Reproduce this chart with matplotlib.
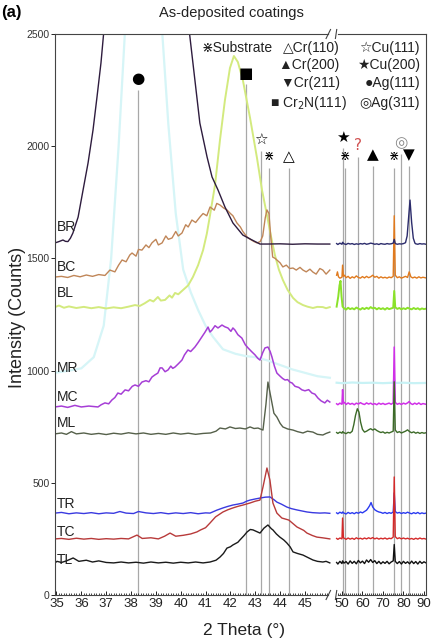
import numpy as np
import matplotlib
matplotlib.use("Agg")
import matplotlib.pyplot as plt
import matplotlib.transforms as mtrans

plt.rcParams['font.family'] = ['Liberation Sans', 'DejaVu Sans']

# ---------------- data (2 theta in degrees, intensity in counts) ----------------
BR_lx = [34.94, 35.1, 35.26, 35.36, 35.46, 35.56, 35.66, 35.87, 36.07, 36.27, 36.47, 36.63, 36.79, 36.91,
         37.2, 37.6, 38.0, 38.5, 39.0, 39.5, 40.0, 40.29, 40.37, 40.57, 40.77, 41.06, 41.26, 41.5, 41.78,
         42.1, 42.5, 42.87, 43.19, 43.5, 44.0, 44.5, 45.0, 45.5, 46.0]
BR_ly = [1569, 1575, 1582, 1576, 1575, 1590, 1613, 1684, 1805, 1925, 2072, 2219, 2371, 2518,
         2950, 3500, 3900, 4100, 3900, 3400, 2850, 2560, 2487, 2295, 2103, 1952, 1863, 1805, 1729,
         1658, 1604, 1582, 1564, 1564, 1565, 1563, 1565, 1564, 1564]
BR_rx = [47.4, 48, 49, 50, 50.3, 51, 52, 53, 54, 55, 56, 57, 58, 59, 60, 61, 62, 63, 64, 65, 66, 67, 68,
         69, 70, 71, 72, 73, 74, 75, 75.5, 76, 77, 78, 79, 80, 81, 81.8, 82.5, 83.2, 84, 84.8, 85.6,
         86, 87, 88, 89, 90, 91]
BR_ry = [1566, 1562, 1568, 1563, 1572, 1565, 1562, 1567, 1564, 1566, 1562, 1565, 1563, 1566, 1564, 1567,
         1563, 1565, 1568, 1566, 1563, 1565, 1562, 1566, 1564, 1563, 1566, 1564, 1565, 1568, 1585, 1566,
         1563, 1565, 1564, 1566, 1570, 1600, 1680, 1760, 1660, 1590, 1568, 1565, 1563, 1566, 1564, 1565, 1563]

BC_lx = [34.94, 35.2, 35.45, 35.7, 35.95, 36.2, 36.45, 36.7, 36.95, 37.15, 37.35, 37.5, 37.64, 37.8, 37.95,
         38.04, 38.2, 38.3, 38.44, 38.6, 38.72, 38.84, 39.0, 39.1, 39.25, 39.4, 39.5, 39.65, 39.8, 39.9,
         40.05, 40.2, 40.3, 40.45, 40.6, 40.77, 40.9, 41.05, 41.18, 41.35, 41.45, 41.58, 41.72, 41.86,
         42.0, 42.1, 42.26, 42.4, 42.5, 42.67, 42.8, 42.95, 43.07, 43.2, 43.3, 43.4, 43.47, 43.55, 43.62,
         43.7, 43.8, 43.87, 44.0, 44.11, 44.25, 44.38, 44.52, 44.65, 44.8, 44.92, 45.05, 45.2, 45.32,
         45.45, 45.6, 45.72, 45.85, 46.0]
BC_ly = [1417, 1420, 1415, 1424, 1418, 1426, 1420, 1428, 1424, 1448, 1440, 1470, 1493, 1485, 1515,
         1524, 1510, 1540, 1537, 1560, 1548, 1569, 1585, 1560, 1569, 1600, 1585, 1591, 1620, 1600,
         1613, 1650, 1640, 1671, 1660, 1684, 1700, 1690, 1729, 1715, 1745, 1738, 1725, 1716,
         1700, 1690, 1658, 1640, 1620, 1595, 1585, 1575, 1569, 1575, 1600, 1680, 1716, 1700, 1600,
         1506, 1500, 1493, 1480, 1462, 1470, 1455, 1457, 1448, 1460, 1448, 1440, 1452, 1439,
         1430, 1455, 1448, 1430, 1448]
BC_rx = [47.4, 47.8, 48.3, 49, 50, 50.3, 50.7, 51.3, 52, 53, 54, 55, 56, 57, 58, 59, 60, 61, 62, 63, 64,
         65, 66, 67, 68, 69, 70, 71, 72, 73, 74, 75, 75.5, 76, 77, 78, 79, 80, 81, 82, 82.8, 83.6, 84.5,
         85.5, 86.5, 87.5, 88.5, 89.5, 91]
BC_ry = [1425, 1440, 1418, 1412, 1416, 1470, 1420, 1425, 1414, 1420, 1411, 1418, 1413, 1422, 1415, 1412,
         1419, 1413, 1420, 1414, 1418, 1425, 1416, 1420, 1412, 1418, 1413, 1416, 1412, 1417, 1414, 1420,
         1690, 1425, 1414, 1418, 1412, 1416, 1420, 1415, 1440, 1418, 1413, 1417, 1412, 1418, 1413, 1416, 1413]

BL_lx = [34.94, 35.1, 35.3, 35.5, 35.8, 36.1, 36.4, 36.7, 37.0, 37.3, 37.6, 37.9, 38.16, 38.35, 38.55,
         38.76, 38.9, 39.08, 39.2, 39.37, 39.55, 39.65, 39.77, 39.9, 40.09, 40.3, 40.49, 40.7, 40.9,
         41.05, 41.18, 41.38, 41.58, 41.78, 41.98, 42.14, 42.3, 42.5, 42.79, 43.07, 43.27, 43.47, 43.63,
         43.79, 43.95, 44.11, 44.3, 44.52, 44.7, 44.92, 45.1, 45.32, 45.5, 45.72, 45.85, 46.0]
BL_ly = [1283, 1290, 1280, 1286, 1279, 1284, 1278, 1283, 1277, 1282, 1278, 1285, 1292, 1288, 1300,
         1315, 1308, 1328, 1312, 1315, 1335, 1325, 1346, 1340, 1359, 1380, 1417, 1470, 1537,
         1610, 1693, 1827, 2028, 2206, 2348, 2402, 2375, 2295, 2126, 1947, 1805, 1693, 1600,
         1515, 1450, 1404, 1360, 1324, 1305, 1292, 1285, 1279, 1284, 1283, 1278, 1283]
BL_rx = [47.4, 48.2, 48.8, 49.3, 49.8, 50.3, 51, 52, 53, 54, 55, 56, 57, 58, 59, 60, 61, 62, 63, 64, 65,
         66, 67, 68, 69, 70, 71, 72, 73, 74, 75, 75.5, 76, 77, 78, 79, 80, 81, 82, 83, 84, 85, 86, 87,
         88, 89, 90, 91]
BL_ry = [1285, 1330, 1380, 1400, 1330, 1285, 1278, 1272, 1280, 1274, 1278, 1273, 1281, 1276, 1272, 1279,
         1274, 1280, 1275, 1283, 1277, 1280, 1273, 1279, 1274, 1278, 1272, 1279, 1274, 1277, 1280, 1355,
         1282, 1275, 1279, 1273, 1278, 1274, 1280, 1276, 1273, 1279, 1274, 1278, 1272, 1277, 1274, 1276]

MR_lx = [34.94, 35.5, 36.0, 36.5, 36.9, 37.2, 37.5, 37.8, 38.2, 38.8, 39.2, 39.5, 39.8, 40.1, 40.4,
         40.7, 41.0, 41.3, 41.7, 42.2, 42.6, 43.0, 43.5, 44.0, 44.5, 45.0, 45.5, 46.0]
MR_ly = [990, 1000, 1010, 1060, 1200, 1500, 2000, 2600, 3000, 3000, 2600, 2100, 1700, 1450, 1350,
         1270, 1200, 1150, 1095, 1075, 1065, 1060, 1045, 1025, 1005, 990, 975, 968]
MR_rx = [47.4, 50, 55, 60, 65, 70, 75, 75.5, 76, 80, 85, 91]
MR_ry = [946, 944, 947, 945, 946, 944, 946, 960, 945, 946, 944, 945]

MC_lx = [34.94, 35.2, 35.45, 35.74, 36.0, 36.3, 36.67, 36.8, 36.95, 37.1, 37.23, 37.35, 37.47, 37.6,
         37.76, 37.9, 38.05, 38.16, 38.3, 38.44, 38.6, 38.72, 38.84, 38.95, 39.08, 39.17, 39.25, 39.37,
         39.49, 39.6, 39.68, 39.77, 39.9, 40.05, 40.15, 40.29, 40.4, 40.57, 40.7, 40.85, 40.97, 41.1,
         41.18, 41.26, 41.38, 41.5, 41.66, 41.78, 41.9, 42.02, 42.1, 42.18, 42.3, 42.46, 42.6, 42.71,
         42.85, 42.99, 43.1, 43.19, 43.3, 43.39, 43.51, 43.6, 43.67, 43.77, 43.87, 44.0, 44.1, 44.2,
         44.3, 44.4, 44.48, 44.6, 44.75, 44.88, 45.0, 45.15, 45.28, 45.4, 45.52, 45.65, 45.8, 45.9, 46.0]
MC_ly = [838, 842, 836, 845, 838, 842, 838, 848, 856, 852, 869, 880, 900, 895,
         914, 910, 930, 936, 930, 949, 955, 950, 971, 980, 989, 1012, 1012, 995,
         1003, 1020, 1010, 1016, 1030, 1047, 1070, 1092, 1085, 1105, 1125, 1150, 1170, 1194,
         1172, 1181, 1200, 1190, 1203, 1195, 1190, 1175, 1190, 1181, 1160, 1145, 1115, 1101,
         1085, 1070, 1055, 1047, 1080, 1101, 1105, 1085, 1061, 1020, 989, 975, 965, 958,
         960, 948, 945, 930, 925, 914, 910, 915, 900, 895, 878, 865, 856, 868, 860]
MC_rx = [47.4, 48, 49, 50, 50.3, 50.7, 51.3, 52, 53, 54, 55, 56, 57, 58, 59, 60, 61, 62, 63, 64, 65, 66,
         67, 68, 69, 70, 71, 72, 73, 74, 75, 75.5, 76, 77, 78, 79, 80, 81, 82, 82.8, 83.6, 84.5, 85.5,
         86.5, 87.5, 88.5, 89.5, 91]
MC_ry = [852, 848, 855, 850, 915, 855, 858, 849, 856, 850, 854, 848, 855, 851, 857, 852, 849, 856, 851,
         855, 849, 853, 848, 855, 850, 854, 849, 852, 855, 850, 856, 1105, 858, 850, 854, 849, 855, 851,
         856, 862, 853, 849, 855, 850, 856, 849, 853, 850]

ML_lx = [34.94, 35.2, 35.4, 35.6, 35.8, 36.1, 36.4, 36.7, 37.0, 37.3, 37.6, 37.9, 38.2, 38.5, 38.8,
         39.1, 39.4, 39.7, 40.0, 40.3, 40.6, 40.9, 41.2, 41.42, 41.58, 41.8, 41.98, 42.2, 42.38, 42.6,
         42.79, 42.95, 43.11, 43.31, 43.43, 43.51, 43.63, 43.75, 43.87, 44.0, 44.11, 44.3, 44.52, 44.7,
         44.92, 45.1, 45.32, 45.5, 45.72, 45.85, 46.0]
ML_ly = [718, 722, 716, 728, 718, 722, 716, 720, 715, 721, 717, 723, 718, 722, 716,
         720, 716, 722, 717, 721, 716, 720, 722, 730, 744, 740, 749, 742, 744, 740,
         749, 742, 744, 735, 850, 949, 880, 810, 793, 765, 749, 740, 735, 728,
         722, 730, 726, 716, 713, 720, 726]
ML_rx = [47.4, 48, 49, 50, 50.3, 51, 52, 53, 54, 55, 55.8, 56.6, 57.5, 58.3, 59.1, 60, 61, 62, 63, 64, 65,
         66, 67, 68, 69, 70, 71, 72, 73, 74, 75, 75.5, 76, 77, 78, 79, 80, 81, 82, 83, 84, 85, 86, 87, 88,
         89, 90, 91]
ML_ry = [724, 720, 726, 721, 728, 723, 719, 725, 722, 730, 760, 800, 830, 815, 770, 738, 726, 730, 736,
         741, 735, 740, 733, 728, 724, 727, 721, 725, 722, 726, 730, 950, 735, 724, 728, 722, 726, 730,
         736, 728, 723, 727, 721, 725, 720, 724, 721, 723]

TR_lx = [34.94, 35.2, 35.5, 35.8, 36.1, 36.4, 36.7, 37.0, 37.3, 37.55, 37.8, 38.1, 38.3, 38.6, 38.9,
         39.2, 39.5, 39.8, 40.1, 40.4, 40.7, 41.0, 41.18, 41.45, 41.7, 41.9, 42.1, 42.3, 42.51, 42.65,
         42.79, 43.0, 43.19, 43.4, 43.59, 43.75, 43.87, 44.05, 44.27, 44.45, 44.68, 44.9, 45.08, 45.3,
         45.6, 45.8, 46.0]
TR_ly = [365, 368, 362, 366, 363, 367, 362, 366, 364, 372, 365, 363, 372, 366, 363,
         367, 362, 366, 363, 367, 362, 366, 365, 378, 388, 395, 401, 405, 410, 418,
         423, 428, 432, 436, 437, 425, 414, 405, 392, 385, 379, 374, 370, 367,
         365, 366, 364]
TR_rx = [47.4, 48, 49, 50, 50.3, 51, 52, 53, 54, 55, 56, 57, 58, 59, 60, 61, 62, 62.8, 63.5, 64.2, 65,
         66, 67, 68, 69, 70, 71, 72, 73, 74, 75, 75.5, 76, 77, 78, 79, 80, 81, 82, 83, 84, 85, 86, 87,
         88, 89, 90, 91]
TR_ry = [366, 362, 369, 364, 370, 365, 361, 368, 363, 367, 362, 368, 364, 370, 366, 372, 378, 388, 398,
         412, 392, 380, 374, 370, 368, 364, 368, 363, 367, 364, 370, 455, 372, 365, 368, 363, 367, 364,
         369, 365, 362, 367, 363, 368, 362, 366, 363, 365]

TC_lx = [34.94, 35.2, 35.5, 35.8, 36.1, 36.4, 36.7, 37.0, 37.3, 37.6, 37.9, 38.24, 38.45, 38.8, 39.1,
         39.35, 39.57, 39.8, 40.1, 40.4, 40.65, 40.8, 41.0, 41.18, 41.4, 41.7, 41.9, 42.1, 42.3, 42.51,
         42.79, 43.0, 43.19, 43.31, 43.47, 43.59, 43.71, 43.87, 44.07, 44.35, 44.68, 44.95, 45.08, 45.3,
         45.48, 45.7, 46.0]
TC_ly = [250, 252, 248, 253, 249, 252, 248, 251, 249, 252, 250, 267, 252, 255, 250,
         262, 276, 262, 266, 272, 281, 290, 300, 321, 348, 370, 380, 388, 395, 401,
         410, 418, 423, 481, 566, 512, 410, 365, 343, 334, 303, 288, 276, 265,
         258, 255, 250]
TC_rx = [47.4, 48, 49, 50, 50.3, 50.7, 51.3, 52, 53, 54, 55, 56, 57, 58, 59, 60, 61, 62, 63, 64, 65, 66,
         67, 68, 69, 70, 71, 72, 73, 74, 75, 75.5, 76, 77, 78, 79, 80, 81, 82, 83, 84, 85, 86, 87, 88,
         89, 90, 91]
TC_ry = [252, 248, 254, 250, 343, 255, 252, 248, 254, 249, 253, 248, 255, 250, 253, 249, 254, 250, 255,
         251, 256, 250, 254, 249, 253, 250, 254, 249, 253, 251, 258, 526, 260, 251, 255, 250, 254, 250,
         253, 249, 252, 248, 253, 249, 254, 250, 252, 249]

TL_lx = [34.94, 35.02, 35.2, 35.4, 35.67, 35.9, 36.2, 36.45, 36.7, 37.0, 37.3, 37.6, 37.9, 38.2, 38.5,
         38.8, 39.1, 39.4, 39.7, 40.0, 40.3, 40.6, 40.9, 41.18, 41.42, 41.58, 41.72, 41.86, 42.0, 42.1,
         42.3, 42.38, 42.55, 42.67, 42.8, 42.91, 43.05, 43.19, 43.35, 43.51, 43.65, 43.71, 43.85, 43.99,
         44.15, 44.27, 44.4, 44.52, 44.7, 44.92, 45.1, 45.32, 45.5, 45.72, 45.85, 46.0]
TL_ly = [143, 150, 145, 152, 165, 150, 155, 147, 152, 145, 143, 147, 143, 146, 142,
         147, 143, 146, 142, 146, 143, 147, 143, 147, 155, 169, 185, 209, 215, 223,
         235, 245, 265, 281, 292, 290, 283, 276, 298, 312, 295, 290, 272, 258,
         245, 232, 215, 192, 185, 178, 168, 156, 150, 147, 150, 143]
TL_rx = [47.4, 48, 49, 50, 50.3, 51, 52, 53, 54, 55, 56, 57, 58, 59, 60, 61, 62, 63, 64, 65, 66, 67, 68,
         69, 70, 71, 72, 73, 74, 75, 75.5, 76, 77, 78, 79, 80, 81, 82, 83, 84, 85, 86, 87, 88, 89, 90, 91]
TL_ry = [145, 138, 150, 140, 152, 142, 149, 138, 152, 141, 150, 139, 154, 143, 151, 140, 156, 146, 158,
         145, 153, 140, 150, 139, 148, 141, 150, 139, 147, 152, 225, 150, 140, 149, 138, 150, 141, 148,
         139, 151, 140, 149, 138, 150, 141, 148, 143]

# reference peak positions, symbols and symbol heights (counts)
REF_POS = [38.29, 42.62, 43.23, 43.55, 44.36, 50.3, 51.3, 57.9, 64.9, 75.5, 78.9, 82.8]
REF_SYM = ['●', '■', '☆', '⋇', '△', '★', '⋇', '?', '▲', '⋇', '◎', '▼']
REF_TOP = [2300, 2326, 2028, 1952, 1952, 2041, 1952, 2001, 1961, 1952, 2014, 1961]

SAMPLE_LABELS = ['BR', 'BC', 'BL', 'MR', 'MC', 'ML', 'TR', 'TC', 'TL']
LABEL_Y = [1640, 1462, 1346, 1012, 882, 767, 406, 281, 156]

LEGEND_ROWS = [('⋇Substrate', '△Cr(110)', '☆Cu(111)'),
               ('', '▲Cr(200)', '★Cu(200)'),
               ('', '▼Cr(211)', '●Ag(111)'),
               ('', '■ Cr$_2$N(111)', '◎Ag(311)')]

XTICKS = [35, 36, 37, 38, 39, 40, 41, 42, 43, 44, 45, 50, 60, 70, 80, 90]
YTICKS = [0, 500, 1000, 1500, 2000, 2500]

# ---------------- broken x-axis scale ----------------
XB = np.array([0.0, 46.0, 47.4, 200.0])
def _p(x):
    return (x - 35) * 24.85 if x <= 46.0 else 285.5 + (x - 50) * 2.05
PB = np.array([_p(v) for v in XB])

def fwd(x):
    return np.interp(np.asarray(x, float), XB, PB)

def inv(p):
    return np.interp(np.asarray(p, float), PB, XB)

fig = plt.figure(figsize=(4.36, 6.41), dpi=100)
ax = fig.add_axes([55 / 436, 1 - 595 / 641, 371 / 436, 561 / 641])
ax.set_xscale('function', functions=(fwd, inv))
ax.set_xlim(34.94, 91.0)
ax.set_ylim(0, 2500)

# reference lines
for pos, sym, top in zip(REF_POS, REF_SYM, REF_TOP):
    ax.vlines(pos, 0, top - 50, color='#a8a8a8', lw=0.9, zorder=1)
    col = '#d05050' if sym == '?' else ('#888888' if sym == '◎' else 'black')
    fs = 9 if sym in ('⋇',) else 11
    ax.text(pos, top, sym, ha='center', va='center', fontsize=fs, color=col,
            family=['DejaVu Sans'], zorder=5)

series = [
    (MR_lx, MR_ly, MR_rx, MR_ry, '#d6f5f7', '#c8f2f5', 1.6),
    (BL_lx, BL_ly, BL_rx, BL_ry, '#d3ea7e', '#8be22a', 1.4),
    (BC_lx, BC_ly, BC_rx, BC_ry, '#c08658', '#e07a1e', 1.0),
    (BR_lx, BR_ly, BR_rx, BR_ry, '#2e1c3e', '#2b2b6b', 1.0),
    (MC_lx, MC_ly, MC_rx, MC_ry, '#a63ed6', '#d030e8', 1.1),
    (ML_lx, ML_ly, ML_rx, ML_ry, '#55604a', '#3c6a28', 1.0),
    (TR_lx, TR_ly, TR_rx, TR_ry, '#3a3ae0', '#2a3af0', 1.0),
    (TC_lx, TC_ly, TC_rx, TC_ry, '#b83a3a', '#d42a2a', 1.0),
    (TL_lx, TL_ly, TL_rx, TL_ry, '#1a1a1a', '#111111', 1.0),
]
for lx, ly, rx, ry, cl, cr, lw in series:
    ax.plot(lx, ly, color=cl, lw=lw, zorder=2)
    ax.plot(rx, ry, color=cr, lw=lw, zorder=2)

for lab, yv in zip(SAMPLE_LABELS, LABEL_Y):
    ax.text(35.03, yv, lab, ha='left', va='center', fontsize=10, color='#222222', zorder=6)

# legend block (text)
col_x = [0.588, 0.768, 0.984]
row_y = [0.975, 0.945, 0.913, 0.877]
for r, row in enumerate(LEGEND_ROWS):
    for c, txt in enumerate(row):
        if txt:
            ax.text(col_x[c] + (0.02 if 'Cr$_2$' in txt else 0), row_y[r], txt,
                    transform=ax.transAxes, ha='right', va='center', fontsize=10,
                    color='#222222', zorder=6)

# ticks
ax.set_xticks(XTICKS)
ax.set_xticklabels([str(t) for t in XTICKS])
minor = [round(v, 1) for v in np.arange(35.1, 46.0, 0.1)] + list(range(48, 91))
ax.set_xticks([m for m in minor if m not in XTICKS], minor=True)
ax.set_yticks(YTICKS)
ax.tick_params(axis='x', direction='in', length=3, width=0.6, labelsize=9.5, pad=2,
               top=False, labelcolor='#222222')
ax.tick_params(axis='x', which='minor', direction='in', length=1.5, width=0.5, top=False)
ax.tick_params(axis='y', direction='out', length=3, width=0.6, labelsize=7.5, pad=1,
               right=False, labelcolor='#333333')
for s in ax.spines.values():
    s.set_linewidth(0.8)
    s.set_color('#444444')

# axis break marks
trans = mtrans.blended_transform_factory(ax.transData, ax.transAxes)
for yb in (0.0, 1.0):
    ax.plot([46.05, 47.3], [yb, yb], color='white', lw=2.0, transform=trans, clip_on=False, zorder=7)
    for xb in (46.0, 47.3):
        ax.plot([xb - 0.15, xb + 0.15], [yb - 0.008, yb + 0.008], color='#444444', lw=0.8,
                transform=trans, clip_on=False, zorder=8)

fig.text(0.56, 0.017, '2 Theta (°)', ha='center', va='center', fontsize=12.5, color='#222222')
fig.text(0.041, 0.505, 'Intensity (Counts)', ha='center', va='center', rotation=90,
         fontsize=13, color='#222222')
fig.text(0.53, 0.979, 'As-deposited coatings', ha='center', va='center', fontsize=10.5,
         color='#222222')
fig.text(0.003, 0.981, '(a)', ha='left', va='center', fontsize=12, fontweight='bold')

fig.savefig('out.png', dpi=100)
